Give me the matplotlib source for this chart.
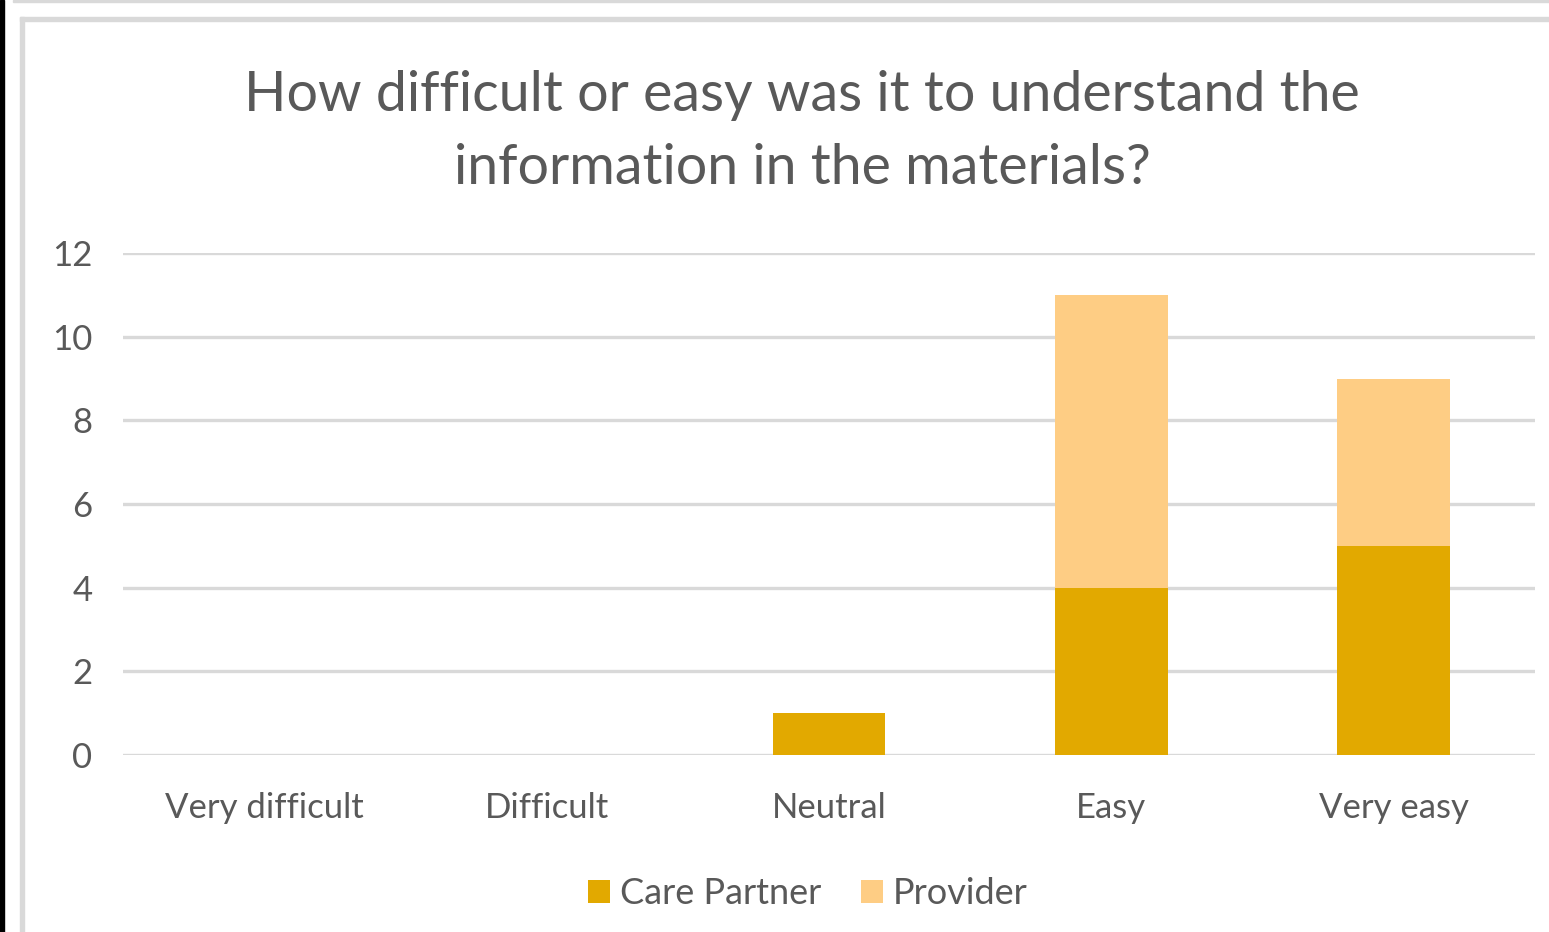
import matplotlib.pyplot as plt
from matplotlib.patches import Rectangle

categories = ["Very difficult", "Difficult", "Neutral", "Easy", "Very easy"]
care_partner = [0, 0, 1, 4, 5]
provider = [0, 0, 0, 7, 4]

title = "How difficult or easy was it to understand the\ninformation in the materials?"
text_color = "#595959"
grid_color = "#d9d9d9"
care_color = "#e2a900"
provider_color = "#fecd84"

plt.rcParams["font.family"] = ["Lato", "DejaVu Sans"]

fig = plt.figure(figsize=(15.49, 9.32), dpi=100)
W, H = 1549, 932

# frame bits around the chart (screenshot edges)
fig.patches.append(Rectangle((0, 0), 4 / W, 1, transform=fig.transFigure, color="black", zorder=0))
fig.patches.append(Rectangle((13 / W, 1 - 2 / H), 1, 2 / H, transform=fig.transFigure, color="#d9d9d9", zorder=0))
fig.patches.append(Rectangle((20 / W, 0), 4 / W, 1 - 17 / H, transform=fig.transFigure, color="#d9d9d9", zorder=0))
fig.patches.append(Rectangle((20 / W, 1 - 21 / H), 1, 4 / H, transform=fig.transFigure, color="#d9d9d9", zorder=0))

ax = fig.add_axes([123 / W, 1 - 755 / H, (1535 - 123) / W, (755 - 253) / H])
x = range(len(categories))
ax.bar(x, care_partner, width=0.4, color=care_color, label="Care Partner", zorder=3)
ax.bar(x, provider, width=0.4, bottom=care_partner, color=provider_color, label="Provider", zorder=3)

ax.set_xlim(-0.5, len(categories) - 0.5)
ax.set_ylim(0, 12)
ax.set_yticks(range(0, 13, 2))
ax.set_xticks(list(x))
ax.set_xticklabels(categories)
ax.grid(axis="y", color=grid_color, linewidth=2.4, zorder=0)
ax.set_axisbelow(True)
for s in ax.spines.values():
    s.set_visible(False)
ax.tick_params(length=0, labelsize=25, colors=text_color)
ax.tick_params(axis="x", pad=27)
ax.tick_params(axis="y", pad=22)

fig.text(802 / W, 1 - 132 / H, title, ha="center", va="center", fontsize=40,
         color=text_color, linespacing=1.54)

fig.legend(loc="center", bbox_to_anchor=(808 / W, 1 - 894 / H), ncol=2, frameon=False,
           fontsize=26, labelcolor=text_color, handlelength=0.61, handleheight=0.61,
           handletextpad=0.28, columnspacing=1.1)

fig.savefig("out.png", dpi=100, facecolor="white")
